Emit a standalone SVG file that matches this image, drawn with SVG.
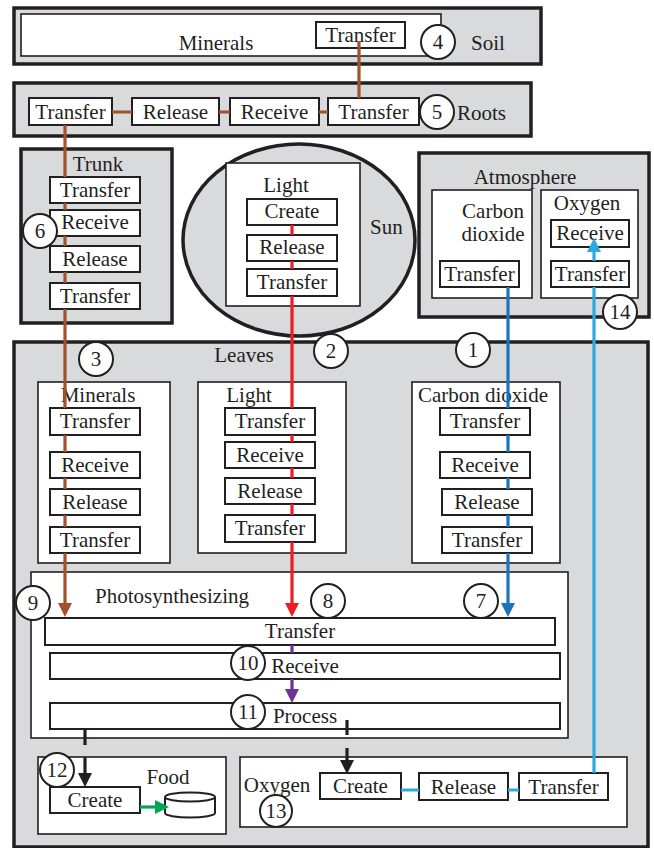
<svg xmlns="http://www.w3.org/2000/svg" width="654" height="848" viewBox="0 0 654 848">
  <style>
    .outer { fill: #d9dadc; stroke: #231f20; stroke-width: 3.5; }
    .inner { fill: #ffffff; stroke: #231f20; stroke-width: 1.6; }
    .box { fill: #ffffff; stroke: #231f20; stroke-width: 2; }
    .t { font-family: "Liberation Serif", "Times New Roman", serif; font-size: 21px; fill: #231f20; text-anchor: middle; }
    .ts { text-anchor: start; }
    .num circle { fill: #ffffff; stroke: #231f20; stroke-width: 2; }
    .ln { fill: none; stroke-width: 3.2; stroke-linecap: butt; }
    .brown { stroke: #a0522a; }
    .red { stroke: #ed1c24; }
    .blue { stroke: #1c75bc; }
    .sky { stroke: #29abe2; }
    .purple { stroke: #6f3198; }
    .black { stroke: #231f20; }
    .green { stroke: #00a651; }
  </style>
  <defs>
    <marker id="ah-brown" viewBox="0 0 14 14" refX="6" refY="7" markerWidth="14" markerHeight="14" markerUnits="userSpaceOnUse" orient="auto"><path d="M0,0 L14,7 L0,14 z" fill="#a0522a"/></marker>
    <marker id="ah-red" viewBox="0 0 14 14" refX="6" refY="7" markerWidth="14" markerHeight="14" markerUnits="userSpaceOnUse" orient="auto"><path d="M0,0 L14,7 L0,14 z" fill="#ed1c24"/></marker>
    <marker id="ah-blue" viewBox="0 0 14 14" refX="6" refY="7" markerWidth="14" markerHeight="14" markerUnits="userSpaceOnUse" orient="auto"><path d="M0,0 L14,7 L0,14 z" fill="#1c75bc"/></marker>
    <marker id="ah-sky" viewBox="0 0 14 14" refX="6" refY="7" markerWidth="14" markerHeight="14" markerUnits="userSpaceOnUse" orient="auto"><path d="M0,0 L14,7 L0,14 z" fill="#29abe2"/></marker>
    <marker id="ah-purple" viewBox="0 0 14 14" refX="6" refY="7" markerWidth="14" markerHeight="14" markerUnits="userSpaceOnUse" orient="auto"><path d="M0,0 L14,7 L0,14 z" fill="#6f3198"/></marker>
    <marker id="ah-black" viewBox="0 0 14 14" refX="6" refY="7" markerWidth="14" markerHeight="14" markerUnits="userSpaceOnUse" orient="auto"><path d="M0,0 L14,7 L0,14 z" fill="#231f20"/></marker>
    <marker id="ah-green" viewBox="0 0 14 14" refX="6" refY="7" markerWidth="14" markerHeight="14" markerUnits="userSpaceOnUse" orient="auto"><path d="M0,0 L14,7 L0,14 z" fill="#00a651"/></marker>
  </defs>

  <!-- Soil -->
  <g id="soil">
    <rect class="outer" x="14" y="8" width="527" height="56"/>
    <rect class="inner" x="21" y="14" width="420" height="42"/>
    <text class="t" x="216" y="50">Minerals</text>
    <text class="t ts" x="471" y="50">Soil</text>
  </g>
  <g id="soil-transfer"><rect class="box" x="316" y="22" width="89" height="26"/><text class="t" x="360.5" y="42">Transfer</text></g>

  <!-- Roots -->
  <g id="roots">
    <rect class="outer" x="14" y="83" width="517" height="53"/>
    <text class="t ts" x="457" y="120">Roots</text>
  </g>
  <g id="roots-transfer-in"><rect class="box" x="328" y="98" width="91" height="27"/><text class="t" x="373.5" y="119">Transfer</text></g>
  <g id="roots-receive"><rect class="box" x="230" y="98" width="89" height="27"/><text class="t" x="274.5" y="119">Receive</text></g>
  <g id="roots-release"><rect class="box" x="132" y="98" width="87" height="27"/><text class="t" x="175.5" y="119">Release</text></g>
  <g id="roots-transfer-out"><rect class="box" x="29" y="98" width="83" height="27"/><text class="t" x="70.5" y="119">Transfer</text></g>

  <!-- Trunk -->
  <g id="trunk">
    <rect class="outer" x="21" y="149" width="151" height="174"/>
    <text class="t" x="98" y="171">Trunk</text>
  </g>
  <g id="trunk-transfer-in"><rect class="box" x="50" y="177" width="90" height="26"/><text class="t" x="95" y="197">Transfer</text></g>
  <g id="trunk-receive"><rect class="box" x="50" y="210" width="90" height="26"/><text class="t" x="95" y="229">Receive</text></g>
  <g id="trunk-release"><rect class="box" x="50" y="246" width="90" height="26"/><text class="t" x="95" y="266">Release</text></g>
  <g id="trunk-transfer-out"><rect class="box" x="50" y="283" width="90" height="26"/><text class="t" x="95" y="303">Transfer</text></g>

  <!-- Sun -->
  <g id="sun">
    <ellipse cx="299" cy="240" rx="116" ry="96" fill="#d9dadc" stroke="#231f20" stroke-width="3.5"/>
    <rect class="inner" x="226" y="163" width="134" height="143"/>
    <text class="t" x="286" y="192">Light</text>
    <text class="t ts" x="370" y="234">Sun</text>
  </g>
  <g id="sun-create"><rect class="box" x="247" y="199" width="90" height="26"/><text class="t" x="292" y="218">Create</text></g>
  <g id="sun-release"><rect class="box" x="247" y="235" width="90" height="26"/><text class="t" x="292" y="254">Release</text></g>
  <g id="sun-transfer"><rect class="box" x="247" y="269" width="90" height="27"/><text class="t" x="292" y="289">Transfer</text></g>

  <!-- Atmosphere -->
  <g id="atmosphere">
    <rect class="outer" x="419" y="153" width="230" height="164"/>
    <text class="t" x="525" y="184">Atmosphere</text>
    <rect class="inner" x="432" y="190" width="100" height="108"/>
    <text class="t" x="493" y="218">Carbon</text>
    <text class="t" x="493" y="241">dioxide</text>
    <rect class="inner" x="541" y="190" width="97" height="108"/>
    <text class="t" x="587" y="210">Oxygen</text>
  </g>
  <g id="atm-co2-transfer"><rect class="box" x="440" y="261" width="79" height="26"/><text class="t" x="479.5" y="281">Transfer</text></g>
  <g id="atm-o2-receive"><rect class="box" x="551" y="220" width="78" height="27"/><text class="t" x="590" y="240">Receive</text></g>
  <g id="atm-o2-transfer"><rect class="box" x="551" y="261" width="78" height="26"/><text class="t" x="590" y="281">Transfer</text></g>

  <!-- Leaves -->
  <g id="leaves">
    <rect class="outer" x="14" y="342" width="634" height="505"/>
    <text class="t" x="244" y="362">Leaves</text>
    <rect class="inner" x="38" y="382" width="132" height="181"/>
    <text class="t" x="98" y="402">Minerals</text>
    <rect class="inner" x="198" y="382" width="148" height="171"/>
    <text class="t" x="249" y="402">Light</text>
    <rect class="inner" x="412" y="382" width="148" height="181"/>
    <text class="t" x="483" y="402">Carbon dioxide</text>
  </g>
  <g id="lv-min-transfer-in"><rect class="box" x="50" y="408" width="90" height="27"/><text class="t" x="95" y="428">Transfer</text></g>
  <g id="lv-min-receive"><rect class="box" x="50" y="452" width="90" height="26"/><text class="t" x="95" y="472">Receive</text></g>
  <g id="lv-min-release"><rect class="box" x="50" y="489" width="90" height="26"/><text class="t" x="95" y="509">Release</text></g>
  <g id="lv-min-transfer-out"><rect class="box" x="50" y="527" width="90" height="26"/><text class="t" x="95" y="547">Transfer</text></g>

  <g id="lv-light-transfer-in"><rect class="box" x="225" y="408" width="90" height="27"/><text class="t" x="270" y="428">Transfer</text></g>
  <g id="lv-light-receive"><rect class="box" x="225" y="442" width="90" height="26"/><text class="t" x="270" y="462">Receive</text></g>
  <g id="lv-light-release"><rect class="box" x="225" y="478" width="90" height="26"/><text class="t" x="270" y="498">Release</text></g>
  <g id="lv-light-transfer-out"><rect class="box" x="225" y="515" width="90" height="27"/><text class="t" x="270" y="535">Transfer</text></g>

  <g id="lv-co2-transfer-in"><rect class="box" x="440" y="408" width="90" height="27"/><text class="t" x="485" y="428">Transfer</text></g>
  <g id="lv-co2-receive"><rect class="box" x="440" y="452" width="90" height="26"/><text class="t" x="485" y="472">Receive</text></g>
  <g id="lv-co2-release"><rect class="box" x="442" y="489" width="90" height="26"/><text class="t" x="487" y="509">Release</text></g>
  <g id="lv-co2-transfer-out"><rect class="box" x="442" y="527" width="90" height="26"/><text class="t" x="487" y="547">Transfer</text></g>

  <!-- Photosynthesizing -->
  <g id="photosynthesizing">
    <rect class="inner" x="31" y="572" width="537" height="166"/>
    <text class="t" x="172" y="603">Photosynthesizing</text>
  </g>
  <g id="ps-transfer"><rect class="box" x="45" y="618" width="510" height="27"/><text class="t" x="300" y="638">Transfer</text></g>
  <g id="ps-receive"><rect class="box" x="50" y="653" width="510" height="26"/><text class="t" x="305" y="673">Receive</text></g>
  <g id="ps-process"><rect class="box" x="50" y="703" width="510" height="26"/><text class="t" x="305" y="723">Process</text></g>

  <!-- Food -->
  <g id="food">
    <rect class="inner" x="38" y="757" width="188" height="77"/>
    <text class="t" x="168" y="784">Food</text>
  </g>
  <g id="food-create"><rect class="box" x="50" y="787" width="90" height="26"/><text class="t" x="95" y="807">Create</text></g>
  <g id="food-store">
    <path d="M165,797 V813 A25,4.5 0 0 0 215,813 V797" fill="#ffffff" stroke="#231f20" stroke-width="2"/>
    <ellipse cx="190" cy="797" rx="25" ry="4.5" fill="#ffffff" stroke="#231f20" stroke-width="2"/>
  </g>

  <!-- Oxygen output -->
  <g id="oxygen-out">
    <rect class="inner" x="240" y="757" width="387" height="70"/>
    <text class="t" x="277" y="792">Oxygen</text>
  </g>
  <g id="ox-create"><rect class="box" x="320" y="773" width="81" height="26"/><text class="t" x="360.5" y="793">Create</text></g>
  <g id="ox-release"><rect class="box" x="419" y="773" width="89" height="27"/><text class="t" x="463.5" y="794">Release</text></g>
  <g id="ox-transfer"><rect class="box" x="519" y="773" width="89" height="27"/><text class="t" x="563.5" y="794">Transfer</text></g>

  <!-- Connectors (drawn in the gaps between step boxes) -->
  <g id="connectors">
    <path class="ln brown" d="M359,41 V98 M112,112 H132 M219,112 H230 M319,112 H328"/>
    <path class="ln brown" d="M65,125 V177 M65,203 V210 M65,236 V246 M65,272 V283 M65,309 V408 M65,435 V452 M65,478 V489 M65,515 V527 M65,553 V609" marker-end="url(#ah-brown)"/>
    <path class="ln red" d="M292,225 V235 M292,261 V269 M292,296 V408 M292,435 V442 M292,468 V478 M292,504 V515 M292,542 V609" marker-end="url(#ah-red)"/>
    <path class="ln blue" d="M508,287 V408 M508,435 V452 M508,478 V489 M508,515 V527 M508,553 V609" marker-end="url(#ah-blue)"/>
    <path class="ln purple" d="M292,645 V653 M292,679 V695" marker-end="url(#ah-purple)"/>
    <path class="ln black" d="M85,729 V745 M85,757 V779" marker-end="url(#ah-black)"/>
    <path class="ln black" d="M347,720 V735 M347,748 V766" marker-end="url(#ah-black)"/>
    <path class="ln green" d="M140,807 H161" marker-end="url(#ah-green)"/>
    <path class="ln sky" d="M401,790 H419 M508,790 H519"/>
    <path class="ln sky" d="M594,773 V287 M594,261 V246" marker-end="url(#ah-sky)"/>
  </g>

  <!-- Step numbers -->
  <g id="step-numbers" class="num">
    <g id="n1"><circle cx="473" cy="350" r="17"/><text class="t" x="473" y="357">1</text></g>
    <g id="n2"><circle cx="331" cy="351" r="17"/><text class="t" x="331" y="358">2</text></g>
    <g id="n3"><circle cx="96" cy="359" r="17"/><text class="t" x="96" y="366">3</text></g>
    <g id="n4"><circle cx="438" cy="42" r="17"/><text class="t" x="438" y="49">4</text></g>
    <g id="n5"><circle cx="437" cy="112" r="17"/><text class="t" x="437" y="119">5</text></g>
    <g id="n6"><circle cx="40" cy="231" r="17"/><text class="t" x="40" y="238">6</text></g>
    <g id="n7"><circle cx="481" cy="601" r="17"/><text class="t" x="481" y="608">7</text></g>
    <g id="n8"><circle cx="328" cy="601" r="17"/><text class="t" x="328" y="608">8</text></g>
    <g id="n9"><circle cx="33" cy="603" r="17"/><text class="t" x="33" y="610">9</text></g>
    <g id="n10"><circle cx="248" cy="663" r="17"/><text class="t" x="248" y="670">10</text></g>
    <g id="n11"><circle cx="248" cy="712" r="17"/><text class="t" x="248" y="719">11</text></g>
    <g id="n12"><circle cx="57" cy="770" r="17"/><text class="t" x="57" y="777">12</text></g>
    <g id="n13"><circle cx="276" cy="811" r="16"/><text class="t" x="276" y="818">13</text></g>
    <g id="n14"><circle cx="620" cy="312" r="17"/><text class="t" x="620" y="319">14</text></g>
  </g>
</svg>
